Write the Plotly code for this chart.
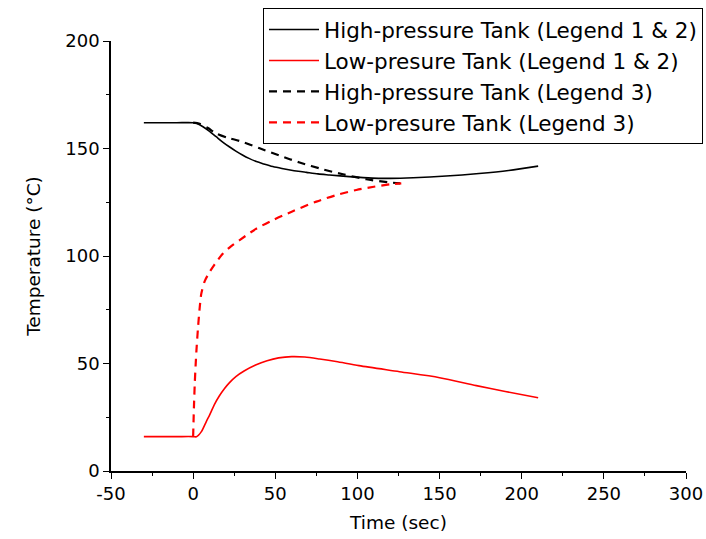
import plotly.graph_objects as go

# High-pressure tank (Legend 1 & 2), solid black
t_hp = [-30, -20, -10, 0, 2, 6, 10, 14, 18, 22, 26, 30, 34, 38.5, 43, 48.5, 54, 59, 64, 69, 76, 83, 95, 109, 120, 134, 154, 174, 192, 210]
T_hp = [162, 162, 162, 162, 161.7, 160.1, 158, 155.5, 153, 150.8, 148.8, 147, 145.4, 143.9, 142.8, 141.6, 140.7, 140, 139.4, 138.9, 138.2, 137.7, 136.9, 136.2, 136.1, 136.4, 137.2, 138.4, 139.8, 141.8]

# Low-pressure tank (Legend 1 & 2), solid red
t_lp = [-30, -20, -10, 0, 2, 5, 8, 10, 13, 16, 19, 22, 26, 31, 38, 45, 52, 60, 68, 77, 87, 101, 125.6, 150, 172.4, 190, 210]
T_lp = [16, 16, 16, 16, 15.9, 18.3, 23, 26, 31, 35, 38.3, 41, 43.9, 46.5, 49.3, 51.3, 52.6, 53.2, 53, 52.1, 50.9, 49, 46.2, 43.4, 39.7, 37, 34.1]

# High-pressure tank (Legend 3), dashed black
t_hp3 = [0, 4, 9, 14, 21, 28.3, 40.5, 52.6, 64.8, 79, 91.2, 105.4, 118.6, 126]
T_hp3 = [162, 161.5, 159.5, 157, 155, 153.5, 150.1, 146.7, 143.5, 140.3, 138, 135.7, 134.3, 133.8]

# Low-pressure tank (Legend 3), dashed red
t_lp3 = [0, 0.5, 1, 1.5, 2, 3, 4, 5, 7, 10, 13, 18, 23, 28.3, 38, 48.6, 60, 75, 87, 99.3, 110, 119.6, 126.7]
T_lp3 = [16, 30, 41, 49, 56, 67, 76, 82.6, 88.2, 92.5, 96, 101, 104.5, 107.4, 112.5, 116.7, 120.6, 125.3, 128.3, 130.7, 132.2, 133.3, 133.8]

names = ["High-pressure Tank (Legend 1 & 2)", "Low-presure Tank (Legend 1 & 2)",
         "High-pressure Tank (Legend 3)", "Low-presure Tank (Legend 3)"]

x_ticks = [-50, 0, 50, 100, 150, 200, 250, 300]
x_labels = ["-50", "0", "50", "100", "150", "200", "250", "300"]
y_ticks = [0, 50, 100, 150, 200]

FONT = "DejaVu Sans, Arial, sans-serif"

W, H = 706, 539
ML, MR, MT, MB = 111, 3, 8, 68
PLOT_R, PLOT_T = 686, 41  # plot-area right / top edges in px
paper_w = W - ML - MR
paper_h = H - MT - MB
x_dom = [0, (PLOT_R - ML) / paper_w]
y_dom = [0, (H - MB - PLOT_T) / paper_h]

fig = go.Figure()
fig.add_trace(go.Scatter(x=t_hp, y=T_hp, mode="lines", name=names[0],
                         line=dict(color="black", width=1.6, shape="spline", smoothing=0.8)))
fig.add_trace(go.Scatter(x=t_lp, y=T_lp, mode="lines", name=names[1],
                         line=dict(color="red", width=1.6, shape="spline", smoothing=0.8)))
fig.add_trace(go.Scatter(x=t_hp3, y=T_hp3, mode="lines", name=names[2],
                         line=dict(color="black", width=2.2, dash="8px,6px", shape="spline", smoothing=0.8)))
fig.add_trace(go.Scatter(x=t_lp3, y=T_lp3, mode="lines", name=names[3],
                         line=dict(color="red", width=2.2, dash="8px,6px", shape="spline", smoothing=0.8)))

axis_common = dict(
    showgrid=False, zeroline=False, showline=True, linecolor="black", linewidth=1.5,
    ticks="outside", ticklen=6, tickwidth=1.2, tickcolor="black",
    minor=dict(ticks="outside", ticklen=3, tickwidth=1.2, tickcolor="black"),
    tickfont=dict(family=FONT, size=18, color="black"),
    automargin=False,
)

fig.update_xaxes(range=[-50, 300], domain=x_dom, tickvals=x_ticks, ticktext=x_labels, minor_dtick=25,
                 title=dict(text="Time (sec)", font=dict(family=FONT, size=18.5, color="black"), standoff=13),
                 **axis_common)
fig.update_yaxes(range=[0, 200], domain=y_dom, tickvals=y_ticks, minor_dtick=25,
                 title=dict(text="Temperature (°C)", font=dict(family=FONT, size=18.5, color="black"), standoff=20),
                 **axis_common)

fig.update_layout(
    width=W, height=H,
    margin=dict(l=ML, r=MR, t=MT, b=MB),
    plot_bgcolor="white", paper_bgcolor="white",
    legend=dict(x=1, xanchor="right", y=1, yanchor="top",
                bordercolor="black", borderwidth=1, bgcolor="white",
                font=dict(family=FONT, size=21.5, color="black"),
                tracegroupgap=0, itemwidth=50),
)

fig.write_html("out.html")
